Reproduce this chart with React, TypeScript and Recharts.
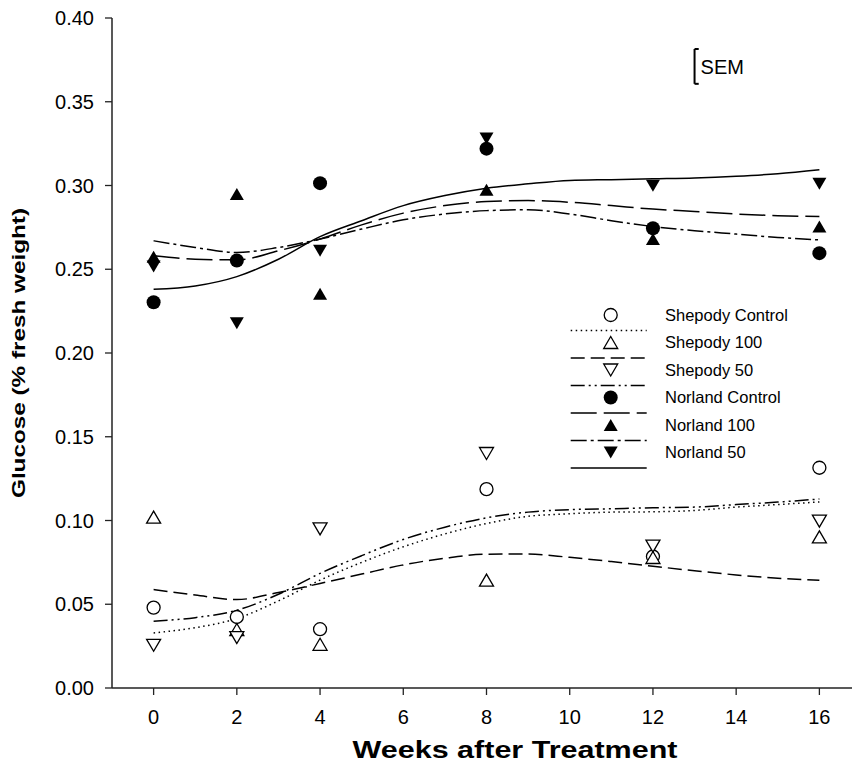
import { ComposedChart, Line, Scatter, XAxis, YAxis, ReferenceLine, Legend } from "recharts";

// measured points
const weeks = [0, 2, 4, 8, 12, 16];
const shepodyControl = [0.048, 0.0424, 0.0351, 0.1187, 0.0785, 0.1315];
const shepody100 = [0.102, 0.0349, 0.0261, 0.0644, 0.0779, 0.0902];
const shepody50 = [0.0255, 0.0301, 0.095, 0.14, 0.0847, 0.0996];
const norlandControl = [0.2303, 0.2552, 0.3014, 0.322, 0.2745, 0.2596];
const norland100 = [0.2575, 0.295, 0.2353, 0.2974, 0.268, 0.2755];
const norland50 = [0.2516, 0.2177, 0.2611, 0.328, 0.2998, 0.301];

// fitted curves at each week
const fitWeeks = [0, 1, 2, 3, 4, 5, 6, 7, 8, 9, 10, 11, 12, 13, 14, 15, 16];
const shepodyControlFit = [0.0329, 0.036, 0.0415, 0.052, 0.0644, 0.075, 0.0843, 0.092, 0.0982, 0.1025, 0.104, 0.105, 0.1052, 0.106, 0.108, 0.1095, 0.1111];
const shepody100Fit = [0.0588, 0.0555, 0.0528, 0.057, 0.0624, 0.068, 0.0735, 0.0775, 0.0799, 0.08, 0.078, 0.0755, 0.0727, 0.07, 0.0675, 0.0655, 0.0644];
const shepody50Fit = [0.0399, 0.042, 0.0464, 0.056, 0.0684, 0.079, 0.0887, 0.096, 0.1016, 0.105, 0.1065, 0.107, 0.1076, 0.108, 0.1095, 0.111, 0.1128];
const norlandControlFit = [0.258, 0.256, 0.2556, 0.261, 0.268, 0.2765, 0.2835, 0.288, 0.2904, 0.291, 0.29, 0.288, 0.2859, 0.2845, 0.283, 0.282, 0.2815];
const norland100Fit = [0.267, 0.263, 0.26, 0.263, 0.268, 0.274, 0.2795, 0.283, 0.285, 0.2855, 0.283, 0.279, 0.2755, 0.273, 0.271, 0.269, 0.2675];
const norland50Fit = [0.238, 0.24, 0.2456, 0.256, 0.2695, 0.279, 0.288, 0.294, 0.2984, 0.301, 0.303, 0.3035, 0.304, 0.3045, 0.3055, 0.307, 0.3094];

const xTicks = [0, 2, 4, 6, 8, 10, 12, 14, 16];
const yTicks = [0, 0.05, 0.1, 0.15, 0.2, 0.25, 0.3, 0.35, 0.4];
const semWeek = 13;
const semLow = 0.3607;
const semHigh = 0.3815;

const FONT = "'Liberation Sans', Arial, Helvetica, sans-serif";

type MarkerKind = "circle" | "up" | "down";

const series = [
  { name: "Shepody Control", points: shepodyControl, fit: shepodyControlFit, marker: "circle" as MarkerKind, filled: false, dash: "1.5 3.5" },
  { name: "Shepody 100", points: shepody100, fit: shepody100Fit, marker: "up" as MarkerKind, filled: false, dash: "14 6" },
  { name: "Shepody 50", points: shepody50, fit: shepody50Fit, marker: "down" as MarkerKind, filled: false, dash: "14 4 2 4 2 4" },
  { name: "Norland Control", points: norlandControl, fit: norlandControlFit, marker: "circle" as MarkerKind, filled: true, dash: "26 7" },
  { name: "Norland 100", points: norland100, fit: norland100Fit, marker: "up" as MarkerKind, filled: true, dash: "16 4 3 4" },
  { name: "Norland 50", points: norland50, fit: norland50Fit, marker: "down" as MarkerKind, filled: true, dash: undefined },
];

const rows = (xs: number[], ys: number[]) => xs.map((x, i) => ({ x, y: ys[i] }));

function Marker({ cx, cy, kind, filled }: { cx: number; cy: number; kind: MarkerKind; filled: boolean }) {
  const fill = filled ? "#000" : "#fff";
  const sw = filled ? 0 : 1.3;
  if (kind === "circle") {
    return <circle cx={cx} cy={cy} r={filled ? 7 : 6.5} fill={fill} stroke="#000" strokeWidth={sw} />;
  }
  const h = 6;
  const w = 7;
  const pts =
    kind === "up"
      ? `${cx},${cy - h} ${cx - w},${cy + h} ${cx + w},${cy + h}`
      : `${cx},${cy + h} ${cx - w},${cy - h} ${cx + w},${cy - h}`;
  return <polygon points={pts} fill={fill} stroke="#000" strokeWidth={sw} strokeLinejoin="miter" />;
}

function LegendBox() {
  return (
    <svg width={260} height={180} style={{ display: "block" }}>
      {series.map((s, i) => {
        const y = 15 + i * 27.5;
        return (
          <g key={s.name}>
            <Marker cx={60.7} cy={y} kind={s.marker} filled={s.filled} />
            <line x1={20.7} x2={96.7} y1={y + 15.6} y2={y + 15.6} stroke="#000" strokeWidth={1.5} strokeDasharray={s.dash} />
            <text x={115} y={y} dy="0.36em" fontFamily={FONT} fontSize={16.5} fill="#000">
              {s.name}
            </text>
          </g>
        );
      })}
    </svg>
  );
}

function YTitle({ viewBox }: any) {
  const cy = viewBox.y + viewBox.height / 2;
  return (
    <text
      x={25}
      y={cy}
      transform={`rotate(-90, 25, ${cy})`}
      textAnchor="middle"
      fontFamily={FONT}
      fontWeight="bold"
      fontSize={18.6}
      textLength={290}
      lengthAdjust="spacingAndGlyphs"
      fill="#000"
    >
      Glucose (% fresh weight)
    </text>
  );
}

function XTitle() {
  return (
    <text
      x={515}
      y={758}
      textAnchor="middle"
      fontFamily={FONT}
      fontWeight="bold"
      fontSize={23}
      textLength={325}
      lengthAdjust="spacingAndGlyphs"
      fill="#000"
    >
      Weeks after Treatment
    </text>
  );
}

export default function App() {
  const tickStyle = { fontSize: 20, fill: "#000", fontFamily: FONT };
  return (
    <div style={{ position: "absolute", left: 0, top: 0, width: 852, height: 773, overflow: "hidden", background: "#fff" }}>
      <ComposedChart width={870} height={773} margin={{ top: 18, right: 9, bottom: 0, left: 0 }}>
        <XAxis
          dataKey="x"
          type="number"
          domain={[-1, 17]}
          ticks={xTicks}
          allowDataOverflow
          tick={tickStyle}
          tickSize={7}
          tickMargin={15}
          height={85}
          axisLine={{ stroke: "#222", strokeWidth: 1.5 }}
          tickLine={{ stroke: "#222", strokeWidth: 1.3 }}
          label={<XTitle />}
        />
        <YAxis
          dataKey="y"
          type="number"
          domain={[0, 0.4]}
          ticks={yTicks}
          allowDataOverflow
          width={112}
          tick={tickStyle}
          tickSize={7}
          tickMargin={11}
          tickFormatter={(v: number) => v.toFixed(2)}
          axisLine={{ stroke: "#222", strokeWidth: 1.5 }}
          tickLine={{ stroke: "#222", strokeWidth: 1.3 }}
          label={<YTitle />}
        />
        {series.map((s) => (
          <Line
            key={s.name + "-fit"}
            data={rows(fitWeeks, s.fit)}
            dataKey="y"
            type="monotone"
            stroke="#000"
            strokeWidth={1.5}
            strokeDasharray={s.dash}
            dot={false}
            activeDot={false}
            legendType="none"
            isAnimationActive={false}
          />
        ))}
        {series.map((s) => (
          <Scatter
            key={s.name + "-pts"}
            name={s.name}
            data={rows(weeks, s.points)}
            dataKey="y"
            isAnimationActive={false}
            shape={(p: any) => <Marker cx={p.cx} cy={p.cy} kind={s.marker} filled={s.filled} />}
          />
        ))}
        <ReferenceLine
          segment={[{ x: semWeek, y: semLow }, { x: semWeek, y: semHigh }]}
          stroke="#000"
          strokeWidth={2}
          label={{ value: "SEM", position: "right", offset: 6, fontSize: 20, fill: "#000", fontFamily: FONT }}
        />
        <ReferenceLine segment={[{ x: semWeek, y: semHigh }, { x: semWeek + 0.1, y: semHigh }]} stroke="#000" strokeWidth={2} />
        <ReferenceLine segment={[{ x: semWeek, y: semLow }, { x: semWeek + 0.1, y: semLow }]} stroke="#000" strokeWidth={2} />
        <Legend
          layout="vertical"
          align="center"
          verticalAlign="middle"
          content={() => <LegendBox />}
          wrapperStyle={{ position: "absolute", left: 550, top: 300, width: 260, height: 180 }}
        />
      </ComposedChart>
    </div>
  );
}
